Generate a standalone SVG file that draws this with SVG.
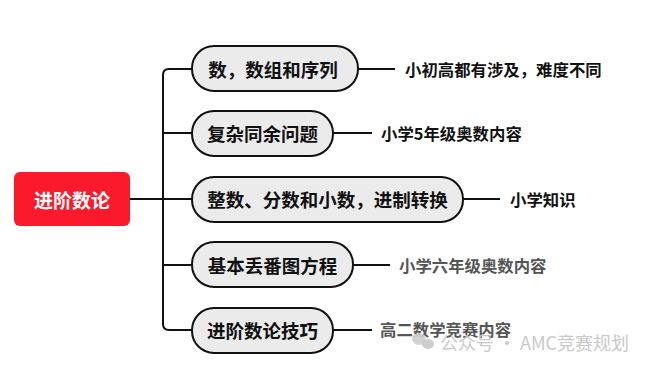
<svg xmlns="http://www.w3.org/2000/svg" width="650" height="366" viewBox="0 0 650 366">
<style>
.node{fill:#ebebeb;stroke:#111;stroke-width:2}
.nt{font-family:"Noto Sans CJK SC","Noto Sans",sans-serif;font-weight:bold;font-size:18.5px;fill:#111;dominant-baseline:central}
.lt{font-family:"Noto Sans CJK SC","Noto Sans",sans-serif;font-weight:bold;font-size:16.4px;fill:#111;dominant-baseline:central}
.lg{fill:#555}
.ln{fill:none;stroke:#111;stroke-width:2}
.wm{font-family:"Noto Sans CJK SC","Noto Sans",sans-serif;font-size:18px;fill:#c4c4c4;dominant-baseline:central}
</style>
<rect width="650" height="366" fill="#fff"/>
<g id="connectors">
<path class="ln" d="M130 199H192"/>
<path class="ln" d="M192 69H169Q163 69 163 75V324Q163 330 169 330H192"/>
<path class="ln" d="M163 133H192M163 265H192"/>
<path class="ln" d="M358 69H395"/>
<path class="ln" d="M333 133H372"/>
<path class="ln" d="M463 199H500"/>
<path class="ln" d="M353 265H390"/>
<path class="ln" d="M333 330H372"/>
</g>
<g id="root">
<rect x="14" y="172" width="116" height="54" rx="6" fill="#fb1a2c"/>
<text x="72" y="199" text-anchor="middle" class="nt" style="fill:#fff;font-size:19px">进阶数论</text>
</g>
<g id="n1">
<rect class="node" x="192" y="46" width="166" height="45" rx="22"/>
<text class="nt" x="273" y="69" text-anchor="middle">数，数组和序列</text>
</g>
<g id="n2">
<rect class="node" x="192" y="111" width="141" height="45" rx="22"/>
<text class="nt" x="262.5" y="133" text-anchor="middle">复杂同余问题</text>
</g>
<g id="n3">
<rect class="node" x="192" y="177" width="271" height="45" rx="22"/>
<text class="nt" x="327.5" y="199" text-anchor="middle">整数、分数和小数，进制转换</text>
</g>
<g id="n4">
<rect class="node" x="192" y="242" width="161" height="45" rx="22"/>
<text class="nt" x="272.5" y="265" text-anchor="middle">基本丢番图方程</text>
</g>
<g id="n5">
<rect class="node" x="192" y="308" width="141" height="45" rx="22"/>
<text class="nt" x="262.5" y="330" text-anchor="middle">进阶数论技巧</text>
</g>
<g id="l1"><text class="lt" x="405" y="69">小初高都有涉及，难度不同</text></g>
<g id="l2"><text class="lt" x="381" y="133">小学5年级奥数内容</text></g>
<g id="l3"><text class="lt" x="510" y="199">小学知识</text></g>
<g id="l4"><text class="lt lg" x="399" y="265">小学六年级奥数内容</text></g>
<g id="l5"><text class="lt lg" x="380" y="329">高二数学竞赛内容</text></g>
<g id="watermark" opacity="0.9">
<ellipse cx="419" cy="339" rx="7" ry="6" fill="#d0d0d0"/>
<ellipse cx="428" cy="344" rx="6" ry="5" fill="#c8c8c8"/>
<text class="wm" x="440" y="342">公众号 · AMC竞赛规划</text>
</g>
</svg>
